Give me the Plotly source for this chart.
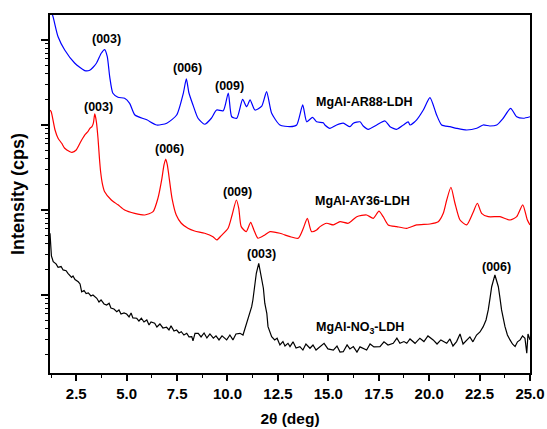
import math
import plotly.graph_objects as go

# ---------------- data (2theta in deg, intensity in cps) ----------------
ar88_x = [1.20, 1.35, 1.60, 1.93, 2.42, 2.92, 3.17, 3.50, 3.74, 3.91, 4.04, 4.16, 4.32, 4.57, 4.90, 5.15, 5.41, 6.00, 6.49, 6.99,
          7.48, 7.81, 7.96, 8.09, 8.29, 8.54, 8.87, 9.20, 9.46, 9.79, 10.04, 10.21, 10.46, 10.75, 10.95, 11.12, 11.36, 11.70, 11.94, 12.19,
          12.60, 13.10, 13.43, 13.73, 13.93, 14.22, 14.42, 14.75, 14.83, 15.08, 15.41, 15.74, 16.07, 16.24, 16.57, 16.73, 16.98, 17.40, 17.81, 18.06,
          18.39, 18.72, 18.96, 19.05, 19.38, 19.71, 20.04, 20.37, 20.62, 21.03, 21.36, 21.86, 22.36, 22.68, 23.01, 23.35, 23.67, 24.04, 24.34, 24.67,
          25.00]
ar88_y = [238000, 188000, 109000, 76200, 53600, 43600, 44000, 53200, 69800, 77000, 63700, 37000, 23600, 21200, 20600, 18000, 13100, 11500, 10000, 10500,
          13100, 23600, 34800, 23800, 17200, 12000, 10200, 12000, 15000, 14700, 23800, 12500, 12000, 20000, 16400, 19700, 15000, 16700, 24700, 13700,
          10000, 9550, 10000, 17200, 10900, 12300, 10900, 10600, 10000, 9140, 10000, 10500, 9550, 10500, 10900, 9730, 8900, 10000, 11150, 9550,
          8900, 10000, 10900, 10000, 11500, 15000, 21000, 13100, 10000, 9550, 9140, 8730, 9140, 10000, 9730, 10000, 12000, 15700, 12500, 12000,
          12500]

ay36_x = [1.20, 1.26, 1.45, 1.60, 1.78, 1.93, 2.19, 2.29, 2.50, 2.77, 2.92, 3.08, 3.18, 3.28, 3.35, 3.42, 3.50, 3.58, 3.65, 3.71,
          3.80, 3.91, 4.24, 4.57, 4.90, 5.40, 5.90, 6.31, 6.55, 6.75, 6.85, 6.94, 7.02, 7.09, 7.25, 7.46, 7.71, 8.04, 8.37, 8.87,
          9.28, 9.47, 9.69, 10.03, 10.23, 10.44, 10.56, 10.68, 10.93, 11.15, 11.31, 11.51, 11.85, 12.11, 12.60, 13.10, 13.51, 13.76, 13.96, 14.17,
          14.42, 14.59, 14.92, 15.25, 15.58, 15.99, 16.41, 16.90, 17.23, 17.51, 17.72, 17.97, 18.39, 18.88, 19.38, 20.04, 20.45, 20.70, 20.87, 21.08,
          21.28, 21.53, 21.86, 22.16, 22.39, 22.60, 22.93, 23.51, 24.01, 24.34, 24.64, 24.87, 25.00]
ay36_y = [15000, 14300, 8730, 6980, 6090, 5320, 4850, 4770, 5080, 6670, 7620, 8340, 9140, 9550, 10500, 13500, 10900, 6980, 4090, 2820,
          2020, 1640, 1310, 1150, 1000, 914, 873, 955, 1370, 2360, 3380, 3980, 3380, 2580, 1370, 873, 698, 609, 566, 532,
          485, 444, 499, 609, 873, 1310, 1047, 637, 556, 716, 582, 465, 508, 556, 532, 485, 465, 609, 798, 556,
          582, 637, 698, 667, 728, 698, 834, 873, 798, 970, 834, 667, 637, 609, 667, 684, 728, 914, 1310, 1850,
          1200, 762, 667, 914, 1200, 914, 834, 834, 762, 834, 1150, 762, 667]

no3_x = [1.20, 1.23, 1.27, 1.36, 1.50, 1.60, 1.75, 1.85, 2.00, 2.09,
         2.19, 2.27, 2.34, 2.44, 2.60, 2.69, 2.77, 2.89, 2.99, 3.10,
         3.23, 3.33, 3.52, 3.63, 3.73, 3.88, 4.01, 4.13, 4.22, 4.37,
         4.51, 4.62, 4.72, 4.87, 5.00, 5.12, 5.22, 5.31, 5.50, 5.61,
         5.73, 5.86, 6.00, 6.11, 6.21, 6.39, 6.50, 6.65, 6.80, 6.98,
         7.10, 7.20, 7.35, 7.48, 7.60, 7.71, 7.84, 7.98, 8.09, 8.23,
         8.29, 8.39, 8.55, 8.69, 8.84, 8.98, 9.13, 9.30, 9.43, 9.58,
         9.73, 9.96, 10.12, 10.27, 10.42, 10.62, 10.77, 10.95, 11.20, 11.26,
         11.36, 11.43, 11.55, 11.68, 11.78, 11.85, 11.95, 12.01, 12.19, 12.34,
         12.46, 12.60, 12.75, 12.85, 13.00, 13.10, 13.25, 13.40, 13.59, 13.74,
         13.89, 14.09, 14.24, 14.39, 14.59, 14.79, 14.98, 15.25, 15.43, 15.58,
         15.74, 15.93, 16.07, 16.24, 16.42, 16.57, 16.90, 17.07, 17.26, 17.56,
         17.76, 17.96, 18.22, 18.40, 18.55, 18.75, 18.89, 19.05, 19.30, 19.54,
         19.74, 19.94, 20.20, 20.39, 20.58, 20.87, 21.03, 21.18, 21.36, 21.53,
         21.68, 21.86, 22.02, 22.17, 22.35, 22.52, 22.68, 22.82, 22.93, 23.02,
         23.10, 23.26, 23.43, 23.51, 23.59, 23.76, 23.88, 24.01, 24.13, 24.26,
         24.38, 24.51, 24.63, 24.75, 24.84, 24.90, 25.00]
no3_y = [532, 387, 288, 247, 232, 211, 216, 197, 193, 180,
         170, 161, 167, 152, 143, 135, 109, 113, 104, 106,
         97.3, 100, 91.4, 82.8, 87.3, 78.4, 76.2, 80, 70.3, 68.4,
         63.7, 66.7, 59.7, 61.4, 59.7, 55.1, 61.4, 53.8, 53.2, 49.4,
         53.2, 48.1, 50.8, 44.4, 48.1, 46.5, 42.0, 45.6, 40.9, 41.7,
         38.7, 43.3, 37.7, 38.7, 35.7, 37.0, 33.8, 35.4, 32.1, 32.3,
         28.8, 35.4, 35.4, 32.1, 35.7, 31.2, 34.8, 31.0, 33.0, 29.6,
         33.0, 29.6, 33.8, 29.6, 34.8, 35.4, 33.8, 46.5, 72.8, 87.3,
         137, 180, 236, 160, 120, 80, 60.9, 42.4, 32.3, 29.6,
         31.0, 25.8, 28.3, 25.1, 27.0, 24.7, 28.1, 23.8, 24.7, 22.5,
         26.5, 23.6, 25.8, 22.5, 24.7, 27.0, 23.2, 22.5, 25.1, 21.3,
         21.5, 25.8, 23.2, 24.7, 21.3, 24.5, 22.5, 26.5, 24.5, 24.7,
         28.1, 25.8, 27.0, 31.0, 27.0, 28.3, 27.0, 30.4, 27.0, 31.0,
         28.3, 33.0, 29.6, 26.5, 29.6, 27.0, 30.4, 25.1, 28.3, 34.8,
         26.5, 29.6, 32.1, 28.1, 33.8, 36.7, 42.4, 50.8, 66.7, 92.3,
         125, 172, 125, 92.3, 66.7, 42.4, 33.8, 29.6, 26.5, 24.7,
         28.1, 29.6, 33.0, 31.0, 20.6, 34.8, 29.6]

x_ticks = [2.5, 5.0, 7.5, 10.0, 12.5, 15.0, 17.5, 20.0, 22.5, 25.0]
x_tick_labels = ["2.5", "5.0", "7.5", "10.0", "12.5", "15.0", "17.5", "20.0", "22.5", "25.0"]
y_major = [1e2, 1e3, 1e4, 1e5]
y_minor = [k * 10 ** n for n in range(1, 6) for k in range(2, 10)]

# labels: (text, 2theta, intensity)
peak_labels = [
    ("(003)", 4.00, 10 ** 5.008), ("(006)", 8.04, 10 ** 4.667), ("(009)", 10.11, 10 ** 4.459),
    ("(003)", 3.59, 10 ** 4.215), ("(006)", 7.13, 10 ** 3.714), ("(009)", 10.52, 10 ** 3.215),
    ("(003)", 11.71, 10 ** 2.479), ("(006)", 23.35, 10 ** 2.333),
]
sample_labels = [
    ("MgAl-AR88-LDH", 16.77, 10 ** 4.274),
    ("MgAl-AY36-LDH", 16.67, 10 ** 3.109),
    ("MgAl-NO<sub>3</sub>-LDH", 16.57, 10 ** 1.608),
]

FONT = "Liberation Sans, Arial, Helvetica, sans-serif"

fig = go.Figure()
for xs, ys, col, name, shp in [(ar88_x, ar88_y, "#0000FF", "MgAl-AR88-LDH", "spline"),
                               (ay36_x, ay36_y, "#FF0000", "MgAl-AY36-LDH", "spline"),
                               (no3_x, no3_y, "#000000", "MgAl-NO3-LDH", "linear")]:
    line = dict(color=col, width=1.2, shape=shp)
    if shp == "spline":
        line["smoothing"] = 0.6
    fig.add_trace(go.Scatter(x=xs, y=ys, mode="lines", name=name, line=line, showlegend=False))

for txt, xv, yv in peak_labels + sample_labels:
    fig.add_annotation(x=xv, y=math.log10(yv), xref="x", yref="y", text="<b>" + txt + "</b>",
                       showarrow=False, font=dict(family=FONT, size=12.5, color="black"),
                       xanchor="center", yanchor="middle")

fig.update_xaxes(range=[1.2, 25.0], tickvals=x_ticks, ticktext=["<b>" + t + "</b>" for t in x_tick_labels],
                 ticks="outside", ticklen=6, tickwidth=1.5, tickcolor="black",
                 showline=True, linewidth=1.5, linecolor="black", mirror=True,
                 showgrid=False, zeroline=False, automargin=False,
                 tickfont=dict(family=FONT, size=15, color="black"),
                 minor=dict(dtick=1.25, tick0=0, ticks="outside", ticklen=3.5, tickwidth=1.2, tickcolor="black", showgrid=False),
                 title=dict(text="<b>2θ (deg)</b>", font=dict(family=FONT, size=15.5, color="black"), standoff=12))
fig.update_yaxes(type="log", range=[1.082, 5.294], tickvals=y_major, showticklabels=False,
                 ticks="outside", ticklen=7, tickwidth=1.5, tickcolor="black",
                 showline=True, linewidth=1.5, linecolor="black", mirror=True,
                 showgrid=False, zeroline=False, automargin=False,
                 minor=dict(tickvals=y_minor, ticks="outside", ticklen=3.5, tickwidth=1.2, tickcolor="black", showgrid=False),
                 title=dict(text="<b>Intensity (cps)</b>", font=dict(family=FONT, size=18, color="black"), standoff=12))

fig.update_layout(width=547, height=429, margin=dict(l=50, r=17, t=15, b=56),
                  paper_bgcolor="white", plot_bgcolor="white", showlegend=False)

fig.write_html("out.html")
